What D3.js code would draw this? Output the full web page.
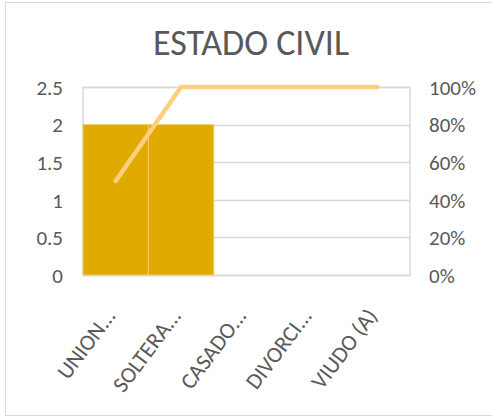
<!DOCTYPE html>
<html>
<head>
<meta charset="utf-8">
<script src="https://cdn.jsdelivr.net/npm/d3@7"></script>
<style>
  body { margin: 0; background: #fff; }
  text { font-family: Carlito, Calibri, Lato, sans-serif; fill: #595959; }
</style>
</head>
<body>
<div id="chart"></div>
<script>
// data
var categories = ["UNION...", "SOLTERA...", "CASADO...", "DIVORCI...", "VIUDO (A)"];
var counts = [2, 2, 0, 0, 0];
var cumulative = [0.5, 1, 1, 1, 1];
var leftTicks = [0, 0.5, 1, 1.5, 2, 2.5];
var rightTicks = [0, 0.2, 0.4, 0.6, 0.8, 1];

var W = 492, H = 418;
var margin = {left: 83, right: 82, top: 87, bottom: 143};
var width = W - margin.left - margin.right,
	height = H - margin.top - margin.bottom;

var svg = d3.select("#chart").append("svg")
	.attr("width", W)
	.attr("height", H);

// outer chart border
svg.append("rect")
	.attr("x", 5.5).attr("y", 2.5)
	.attr("width", 495).attr("height", 413)
	.attr("fill", "none")
	.attr("stroke", "#d9d9d9");

// title
svg.append("text")
	.attr("x", 251)
	.attr("y", 55)
	.attr("text-anchor", "middle")
	.attr("font-size", "36px")
	.text("ESTADO CIVIL");

var canvas = svg.append("g")
	.attr("transform", "translate(" + margin.left + "," + margin.top + ")");

// scales
var x = d3.scaleBand().domain(categories).range([0, width]).padding(0);
var y = d3.scaleLinear().domain([0, 2.5]).range([height, 0]);
var y2 = d3.scaleLinear().domain([0, 1]).range([height, 0]);

// gridlines
canvas.selectAll(".grid")
	.data(leftTicks)
	.enter().append("line")
	.attr("x1", 0).attr("x2", width)
	.attr("y1", function(d){ return Math.round(y(d)) + 0.5 })
	.attr("y2", function(d){ return Math.round(y(d)) + 0.5 })
	.attr("stroke", "#d9d9d9")
	.attr("stroke-width", 1.5);

// plot area border
canvas.append("rect")
	.attr("x", 0).attr("y", 0.5)
	.attr("width", width).attr("height", height)
	.attr("fill", "none")
	.attr("stroke", "#d9d9d9")
	.attr("stroke-width", 1.5);

// bars
canvas.selectAll(".bar")
	.data(counts)
	.enter().append("rect")
	.attr("x", function(d, i){ return x(categories[i]) })
	.attr("y", function(d){ return y(d) })
	.attr("width", x.bandwidth())
	.attr("height", function(d){ return height - y(d) })
	.attr("fill", "#e0aa00")
	.attr("stroke", function(d){ return d > 0 ? "#f2cf6a" : "none" })
	.attr("stroke-width", 1);

// cumulative line
var line = d3.line()
	.x(function(d, i){ return x(categories[i]) + x.bandwidth() / 2 })
	.y(function(d){ return y2(d) });

canvas.append("path")
	.datum(cumulative)
	.attr("d", line)
	.attr("fill", "none")
	.attr("stroke", "#ffcf80")
	.attr("stroke-width", 4.5)
	.attr("stroke-linecap", "round")
	.attr("stroke-linejoin", "round");

// left axis
var yAxis = d3.axisLeft(y).tickValues(leftTicks).tickSize(0).tickPadding(20)
	.tickFormat(function(d){ return d3.format("")(d) });
canvas.append("g").call(yAxis)
	.call(function(g){ g.select(".domain").remove() })
	.selectAll("text")
	.attr("font-size", "21px")
	.attr("dy", "0.35em");

// right axis
var y2Axis = d3.axisRight(y2).tickValues(rightTicks).tickSize(0).tickPadding(19)
	.tickFormat(d3.format(".0%"));
canvas.append("g")
	.attr("transform", "translate(" + width + ",0)")
	.call(y2Axis)
	.call(function(g){ g.select(".domain").remove() })
	.selectAll("text")
	.attr("font-size", "21px")
	.attr("dy", "0.35em");

// x labels
canvas.selectAll(".xlabel")
	.data(categories)
	.enter().append("text")
	.attr("text-anchor", "end")
	.attr("font-size", "22.5px")
	.attr("transform", function(d){
		return "translate(" + (x(d) + x.bandwidth() / 2 + 1) + "," + (height + 41) + ") rotate(-53)";
	})
	.text(function(d){ return d });
</script>
</body>
</html>
